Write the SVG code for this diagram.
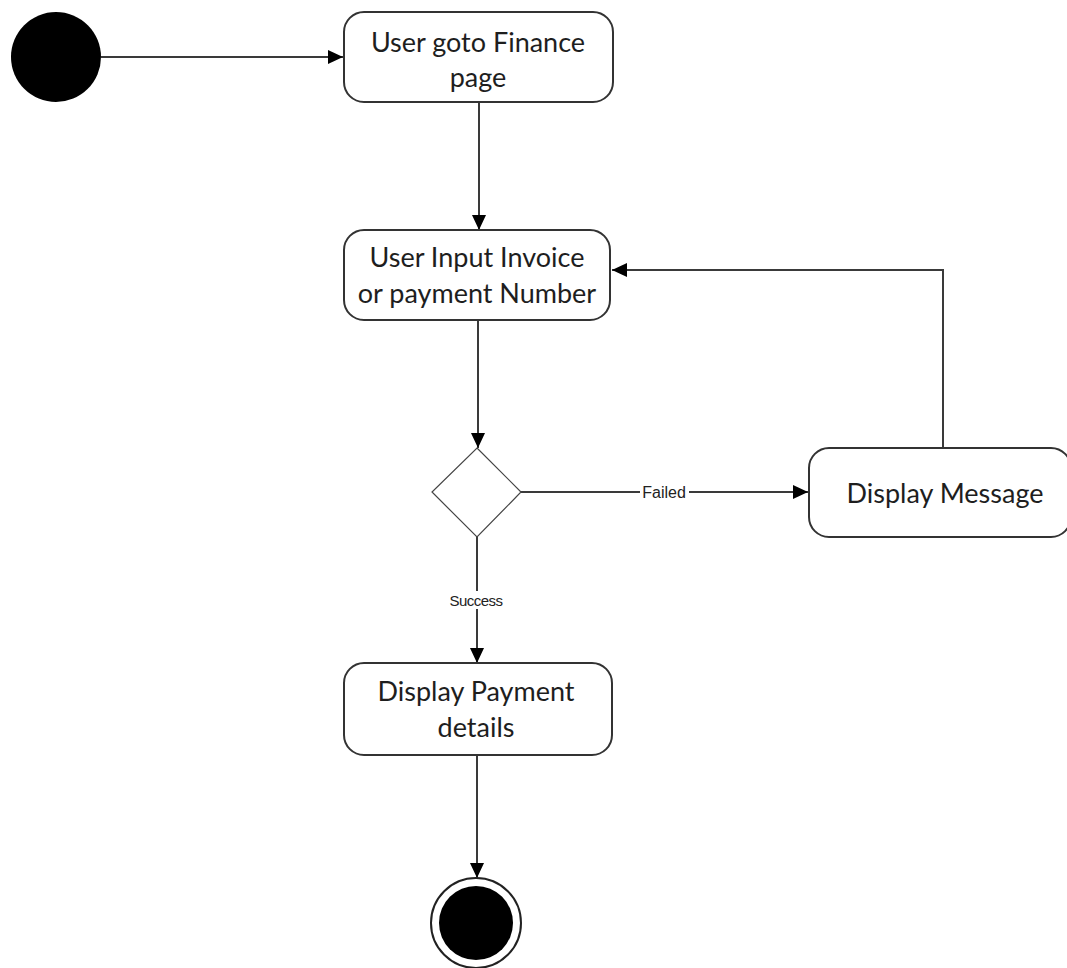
<svg xmlns="http://www.w3.org/2000/svg" width="1067" height="968" viewBox="0 0 1067 968">
  <style>
    .box { fill: #ffffff; stroke: #333333; stroke-width: 2; }
    .label { font-family: "Lato", "Open Sans", "Liberation Sans", sans-serif; font-size: 27px; fill: #1e1e1e; text-anchor: middle; }
    .edge { fill: none; stroke: #3a3a3a; stroke-width: 2; }
    .guard { font-family: "Liberation Sans", "DejaVu Sans", sans-serif; fill: #222222; text-anchor: middle; }
  </style>
  <defs>
    <marker id="arrow" viewBox="0 0 15 14" refX="15" refY="7" markerWidth="15" markerHeight="14" markerUnits="userSpaceOnUse" orient="auto">
      <path d="M0,0 L15,7 L0,14 Z" fill="#000000"/>
    </marker>
  </defs>
  <rect width="1067" height="968" fill="#ffffff"/>

  <g id="connectors">
    <line class="edge" x1="101" y1="57" x2="343" y2="57" marker-end="url(#arrow)"/>
    <line class="edge" x1="479" y1="102" x2="479" y2="230" marker-end="url(#arrow)"/>
    <line class="edge" x1="478" y1="320" x2="478" y2="448" marker-end="url(#arrow)"/>
    <line class="edge" x1="521" y1="492" x2="808" y2="492" marker-end="url(#arrow)"/>
    <polyline class="edge" points="943,448 943,270 612,270" marker-end="url(#arrow)"/>
    <line class="edge" x1="477" y1="537" x2="477" y2="663" marker-end="url(#arrow)"/>
    <line class="edge" x1="477" y1="755" x2="477" y2="878" marker-end="url(#arrow)"/>
    <rect x="640" y="482" width="49" height="20" fill="#ffffff"/>
    <text class="guard" x="664" y="498" font-size="16">Failed</text>
    <rect x="443" y="591" width="67" height="18" fill="#ffffff"/>
    <text class="guard" x="476" y="606" font-size="15" letter-spacing="-0.5">Success</text>
  </g>

  <g id="start">
    <circle cx="56" cy="57" r="45" fill="#000000"/>
  </g>

  <g id="goto-finance">
    <rect class="box" x="344" y="12" width="269" height="90" rx="20"/>
    <text class="label" x="478" y="52">User goto Finance</text>
    <text class="label" x="478" y="87">page</text>
  </g>

  <g id="input-invoice">
    <rect class="box" x="344" y="230" width="266" height="90" rx="20"/>
    <text class="label" x="477" y="267">User Input Invoice</text>
    <text class="label" x="477" y="303">or payment Number</text>
  </g>

  <g id="decision">
    <polygon points="477,448 521,492 477,537 432,492" fill="#ffffff" stroke="#444444" stroke-width="1.2"/>
  </g>

  <g id="display-message">
    <rect class="box" x="809" y="448" width="262" height="89" rx="20"/>
    <text class="label" x="945" y="503">Display Message</text>
  </g>

  <g id="payment-details">
    <rect class="box" x="344" y="663" width="268" height="92" rx="20"/>
    <text class="label" x="476" y="701">Display Payment</text>
    <text class="label" x="476" y="737">details</text>
  </g>

  <g id="end">
    <circle cx="476" cy="923" r="45" fill="#ffffff" stroke="#222222" stroke-width="2"/>
    <circle cx="476" cy="923" r="37" fill="#000000"/>
  </g>
</svg>
